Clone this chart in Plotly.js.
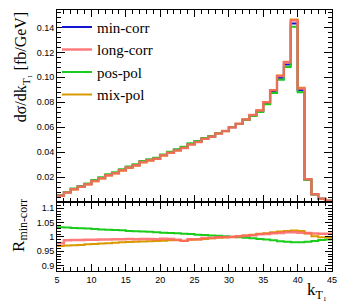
<!DOCTYPE html>
<html><head><meta charset="utf-8">
<script src="https://cdn.plot.ly/plotly-3.0.1.min.js"></script>
<style>body{margin:0;background:#fff}#c{width:349px;height:307px}</style>
</head><body><div id="c"></div>
<script>
const binEdges = [5,6,7,8,9,10,11,12,13,14,15,16,17,18,19,20,21,22,23,24,25,26,27,28,29,30,31,32,33,34,35,36,37,38,39,40,41,42,43,44,45];
const seriesNames = ["min-corr","long-corr","pos-pol","mix-pol"];
const minCorr = [0.00511,0.00779,0.01041,0.01234,0.01444,0.01707,0.01927,0.02170,0.02329,0.02560,
  0.02779,0.02964,0.03223,0.03364,0.03498,0.03763,0.03978,0.04182,0.04387,0.04657,
  0.04849,0.05090,0.05251,0.05506,0.05690,0.06000,0.06257,0.06594,0.06928,0.07275,
  0.07921,0.08845,0.09961,0.11024,0.14321,0.08966,0.01795,0.00613,0.00267,0.00099];
const longCorr = [0.0050,0.0077,0.0103,0.0122,0.0143,0.0169,0.0191,0.0215,0.0231,0.0254,
  0.0276,0.0294,0.0320,0.0334,0.0347,0.0374,0.0395,0.0414,0.0433,0.0462,
  0.0481,0.0507,0.0523,0.0550,0.0569,0.0600,0.0627,0.0662,0.0697,0.0734,
  0.0800,0.0896,0.1010,0.1120,0.1455,0.0910,0.0182,0.0062,0.0027,0.0010];
const posPol = [0.00528,0.00805,0.01073,0.01271,0.01486,0.01755,0.01977,0.02224,0.02385,0.02619,
  0.02837,0.03023,0.03284,0.03425,0.03554,0.03819,0.04034,0.04236,0.04435,0.04704,
  0.04888,0.05126,0.05277,0.05528,0.05701,0.06006,0.06251,0.06574,0.06893,0.07224,
  0.07850,0.08739,0.09812,0.10837,0.14049,0.08796,0.01764,0.00604,0.00264,0.00098];
const mixPol = [0.00495,0.00756,0.01011,0.01199,0.01406,0.01664,0.01883,0.02122,0.02282,0.02511,
  0.02729,0.02914,0.03171,0.03314,0.03449,0.03714,0.03930,0.04132,0.04326,0.04610,
  0.04805,0.05054,0.05225,0.05489,0.05679,0.06000,0.06270,0.06627,0.06983,0.07355,
  0.08024,0.08987,0.10150,0.11256,0.14636,0.09154,0.01817,0.00614,0.00267,0.00099];
const ratioLong = [0.978,0.988,0.989,0.989,0.990,0.990,0.991,0.991,0.992,0.992,
  0.993,0.992,0.993,0.993,0.992,0.994,0.993,0.990,0.987,0.992,
  0.992,0.996,0.996,0.999,1.000,1.000,1.002,1.004,1.006,1.009,
  1.010,1.013,1.014,1.016,1.016,1.015,1.014,1.012,1.011,1.011];
const ratioPos = [1.034,1.033,1.031,1.030,1.029,1.028,1.026,1.025,1.024,1.023,
  1.021,1.020,1.019,1.018,1.016,1.015,1.014,1.013,1.011,1.010,
  1.008,1.007,1.005,1.004,1.002,1.001,0.999,0.997,0.995,0.993,
  0.991,0.988,0.985,0.983,0.981,0.981,0.983,0.986,0.989,0.991];
const ratioMix = [0.968,0.970,0.971,0.972,0.974,0.975,0.977,0.978,0.980,0.981,
  0.982,0.983,0.984,0.985,0.986,0.987,0.988,0.988,0.986,0.990,
  0.991,0.993,0.995,0.997,0.998,1.000,1.002,1.005,1.008,1.011,
  1.013,1.016,1.019,1.021,1.022,1.021,1.012,1.002,0.999,0.998];
const topTickVals = [0.02,0.04,0.06,0.08,0.10,0.12,0.14];
const topTickText = ["0.02","0.04","0.06","0.08","0.10","0.12","0.14"];
const botTickVals = [0.9,0.95,1,1.05,1.1];
const botTickText = ["0.9","0.95","1","1.05","1.1"];
const xTickVals = [5,10,15,20,25,30,35,40,45];

const colors = {blue:"#1414d2", red:"rgba(255,100,100,0.85)", green:"#1ccc1c", orange:"#d99a00"};
function stepY(v){ return v.concat([v[v.length-1]]); }
function hist(y, name, color, w, xa, ya, show){
  return {x: binEdges, y: stepY(y), type:"scatter", mode:"lines", name:name,
    line:{shape:"hv", color:color, width:w}, xaxis:xa, yaxis:ya, showlegend:show, hoverinfo:"skip"};
}
const traces = [
  hist(minCorr, seriesNames[0], colors.blue, 2, "x", "y", true),
  hist(mixPol, seriesNames[3], colors.orange, 2, "x", "y", false),
  hist(posPol, seriesNames[2], colors.green, 2, "x", "y", false),
  hist(longCorr, seriesNames[1], colors.red, 2.5, "x", "y", false),
  hist(ratioPos, seriesNames[2], colors.green, 2, "x2", "y2", false),
  hist(ratioMix, seriesNames[3], colors.orange, 2, "x2", "y2", false),
  hist(ratioLong, seriesNames[1], colors.red, 2.5, "x2", "y2", false)
];
// legend entries in the reference order
const legendTraces = [
  {x:[null], y:[null], type:"scatter", mode:"lines", name:seriesNames[1], line:{color:colors.red, width:2.5}, xaxis:"x", yaxis:"y"},
  {x:[null], y:[null], type:"scatter", mode:"lines", name:seriesNames[2], line:{color:colors.green, width:2}, xaxis:"x", yaxis:"y"},
  {x:[null], y:[null], type:"scatter", mode:"lines", name:seriesNames[3], line:{color:colors.orange, width:2}, xaxis:"x", yaxis:"y"}
];
const tickFont = {family:"Liberation Sans, Arial, sans-serif", size:9, color:"#000"};
const commonAxis = {showline:true, linecolor:"#000", linewidth:1, mirror:"ticks", ticks:"inside",
  tickcolor:"#000", showgrid:false, zeroline:false, tickfont:tickFont};
const layout = {
  width:349, height:307, margin:{l:57, r:17, t:10, b:36},
  paper_bgcolor:"#fff", plot_bgcolor:"#fff",
  showlegend:true,
  legend:{x:0.0, y:0.997, xanchor:"left", yanchor:"top", bgcolor:"rgba(0,0,0,0)",
    font:{family:"Liberation Serif, Times New Roman, serif", size:15, color:"#000"}, tracegroupgap:0, traceorder:"normal"},
  xaxis:Object.assign({}, commonAxis, {domain:[0,1], anchor:"y", range:[5,45], tickvals:xTickVals, showticklabels:false,
    ticklen:7, minor:{ticks:"inside", ticklen:4, dtick:1, tick0:5, tickcolor:"#000"}}),
  yaxis:Object.assign({}, commonAxis, {domain:[0.2644,1], anchor:"x", range:[0,0.154], tickvals:topTickVals, ticktext:topTickText,
    ticklen:8, minor:{ticks:"inside", ticklen:4, dtick:0.004, tick0:0, tickcolor:"#000"}}),
  xaxis2:Object.assign({}, commonAxis, {domain:[0,1], anchor:"y2", range:[5,45], tickvals:xTickVals,
    ticklen:7, minor:{ticks:"inside", ticklen:4, dtick:1, tick0:5, tickcolor:"#000"}}),
  yaxis2:Object.assign({}, commonAxis, {domain:[0,0.2644], anchor:"x2", range:[0.881,1.122], tickvals:botTickVals, ticktext:botTickText,
    ticklen:7, minor:{ticks:"inside", ticklen:4, dtick:0.01, tick0:0.9, tickcolor:"#000"}}),
  annotations:[
    {text:"dσ/dk<sub>T₁</sub> [fb/GeV]", xref:"paper", yref:"paper", x:-0.13, y:1.0, xanchor:"center", yanchor:"top",
      textangle:-90, showarrow:false, font:{family:"Liberation Serif, Times New Roman, serif", size:16, color:"#000"}},
    {text:"R<sub>min-corr</sub>", xref:"paper", yref:"paper", x:-0.135, y:0.176, xanchor:"center", yanchor:"middle",
      textangle:-90, showarrow:false, font:{family:"Liberation Serif, Times New Roman, serif", size:17, color:"#000"}},
    {text:"k<sub>T₁</sub>", xref:"paper", yref:"paper", x:0.945, y:-0.075, xanchor:"center", yanchor:"middle",
      showarrow:false, font:{family:"Liberation Serif, Times New Roman, serif", size:17, color:"#000"}}
  ]
};
Plotly.newPlot("c", traces.concat(legendTraces), layout, {displayModeBar:false, staticPlot:true});
</script></body></html>
